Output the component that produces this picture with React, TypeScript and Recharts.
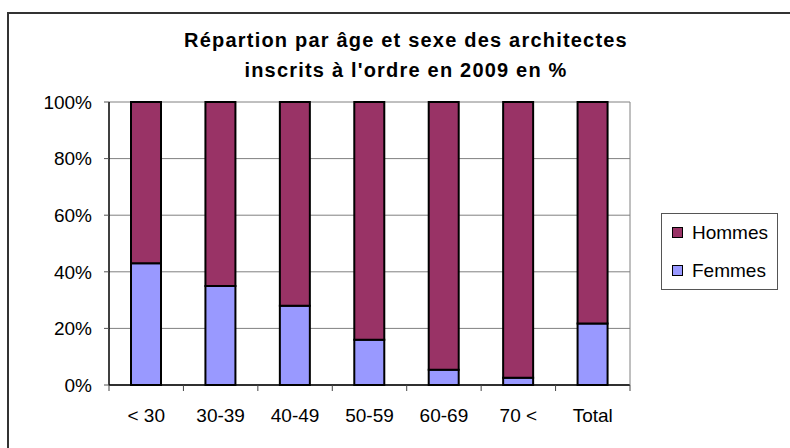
import { Bar, BarChart, CartesianGrid, Legend, XAxis, YAxis } from "recharts";

const categories = ["< 30", "30-39", "40-49", "50-59", "60-69", "70 <", "Total"];
const femmes = [43, 35, 28, 16, 5.4, 2.6, 21.7];
const hommes = [57, 65, 72, 84, 94.6, 97.4, 78.3];
const yTicks = [0, 20, 40, 60, 80, 100];

const data = categories.map((cat, i) => ({ cat, Femmes: femmes[i], Hommes: hommes[i] }));

const FONT = '"Liberation Sans", Arial, sans-serif';
const LABEL_GAP = 24;

// category label plus Excel-style tick marks on the band boundaries
function CatTick(props: any) {
  const { x, y, payload, index } = props;
  const half = payload && payload.offset ? payload.offset : 37.4;
  const axisY = y - LABEL_GAP;
  const last = index === categories.length - 1;
  return (
    <g>
      <line x1={x - half} x2={x - half} y1={axisY} y2={axisY + 6} stroke="#444" />
      {last && <line x1={x + half} x2={x + half} y1={axisY} y2={axisY + 6} stroke="#444" />}
      <text x={x} y={y} dy="0.71em" textAnchor="middle" fill="#000" fontSize={19} fontFamily={FONT}>
        {payload.value}
      </text>
    </g>
  );
}

function LegendBox({ payload }: any) {
  const items = [...(payload || [])].reverse();
  return (
    <div
      style={{
        border: "1px solid #555",
        width: 117,
        height: 77,
        boxSizing: "border-box",
        background: "#fff",
        paddingTop: 9,
        fontFamily: FONT,
      }}
    >
      {items.map((p: any) => (
        <div key={p.value} style={{ display: "flex", alignItems: "center", height: 19, marginBottom: 19 }}>
          <span
            style={{
              display: "inline-block",
              width: 9,
              height: 9,
              marginLeft: 10,
              marginRight: 9,
              background: p.color,
              border: "1.5px solid #000",
            }}
          />
          <span style={{ fontSize: 19, color: "#000" }}>{p.value}</span>
        </div>
      ))}
    </div>
  );
}

export default function App() {
  return (
    <div
      style={{
        position: "absolute",
        left: 0,
        top: 0,
        width: 790,
        height: 448,
        overflow: "hidden",
        background: "#fff",
        fontFamily: FONT,
      }}
    >
      <div
        style={{
          position: "absolute",
          left: 7,
          top: 12,
          width: 900,
          height: 600,
          border: "2px solid #333",
        }}
      />
      <div
        style={{
          position: "absolute",
          left: 0,
          top: 25,
          width: 812,
          textAlign: "center",
          fontSize: 20,
          lineHeight: "30px",
          fontWeight: "bold",
          letterSpacing: 1.2,
          color: "#000",
        }}
      >
        Répartion par âge et sexe des architectes
        <br />
        inscrits à l'ordre en 2009 en %
      </div>
      <div style={{ position: "absolute", left: 0, top: 0 }}>
        <BarChart
          width={790}
          height={448}
          data={data}
          margin={{ top: 102, right: 42, left: 0, bottom: 62 }}
          barSize={30}
        >
          <CartesianGrid vertical={false} stroke="#808080" strokeWidth={1} />
          <XAxis
            dataKey="cat"
            height={1}
            tickLine={false}
            axisLine={{ stroke: "#000", strokeWidth: 1.5 }}
            tickSize={0}
            tickMargin={LABEL_GAP}
            interval={0}
            tick={<CatTick />}
          />
          <YAxis
            domain={[0, 100]}
            ticks={yTicks}
            width={109}
            tickSize={5}
            tickMargin={12}
            tickFormatter={(v: number) => `${v}%`}
            tick={{ fill: "#000", fontSize: 19, fontFamily: FONT }}
            tickLine={{ stroke: "#555" }}
            axisLine={{ stroke: "#000", strokeWidth: 1.5 }}
          />
          <YAxis
            yAxisId="r"
            orientation="right"
            domain={[0, 100]}
            width={1}
            tick={false}
            tickLine={false}
            axisLine={{ stroke: "#808080" }}
          />
          <Legend
            layout="vertical"
            align="right"
            verticalAlign="middle"
            content={<LegendBox />}
            wrapperStyle={{ position: "absolute", left: 661, top: 213, width: 117, height: 77 }}
          />
          <Bar
            dataKey="Femmes"
            stackId="a"
            fill="#9999FF"
            stroke="#000"
            strokeWidth={2}
            isAnimationActive={false}
          />
          <Bar
            dataKey="Hommes"
            stackId="a"
            fill="#993366"
            stroke="#000"
            strokeWidth={2}
            isAnimationActive={false}
          />
        </BarChart>
      </div>
    </div>
  );
}
